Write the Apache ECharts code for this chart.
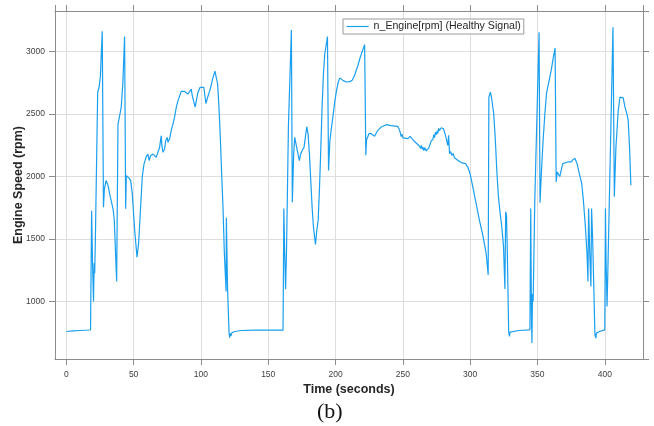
<!DOCTYPE html>
<html>
<head>
<meta charset="utf-8">
<script src="https://cdn.jsdelivr.net/npm/echarts@6/dist/echarts.min.js"></script>
<style>
  html, body { margin: 0; padding: 0; background: #fff; }
  #chart { width: 654px; height: 426px; }
</style>
</head>
<body>
<div id="chart"></div>
<script>
// Engine speed trace over one drive cycle (seconds, rpm)
const timeSec = [
  0, 5, 10, 18, 18.8, 19.5, 20.2, 20.7, 21.1, 21.6, 23.3, 24.3, 25.3, 26.7, 27.6, 28.3, 29.5, 30.2, 31, 32.2,
  33.5, 34.7, 35.6, 37.4, 38.4, 39.5, 40.8, 42, 43.3, 44.1, 44.6, 45.8, 46.8, 47.8, 49, 50.8, 52.5, 53.7, 55.2, 56.4,
  57.7, 59.4, 60.6, 61.6, 62.6, 64.4, 65.6, 66.8, 68, 69.3, 70.5, 71, 71.8, 73, 73.8, 75, 75.5, 76.7, 77.9, 79.2,
  80.4, 81.7, 82.9, 84.2, 85.4, 86.6, 87.9, 89, 90.3, 91.6, 92.8, 93.6, 94.8, 95.8, 96.8, 97.8, 99.3, 100.7, 102.2, 103.7,
  105, 107, 108.7, 110.4, 111.2, 112.4, 113.4, 114.4, 115.4, 116.4, 117.4, 118.7, 118.9, 119.8, 120.9, 121.4, 121.8, 122.3, 123, 125,
  130, 140, 161, 161.6, 162.2, 162.9, 163.6, 165, 167.2, 167.9, 168.9, 169.7, 170.6, 171.6, 173.1, 174.1, 175.1, 176.6, 177.6, 178.6,
  179.6, 180.6, 181.6, 182.6, 183.6, 185.1, 186.1, 187.1, 188.1, 189.1, 190, 191, 192, 194, 194.8, 195.8, 197, 198.3, 199.5, 200.7,
  202, 203.2, 204.5, 205.7, 208, 210.5, 212.4, 214.1, 215.4, 216.6, 218.4, 219.5, 221.6, 222.5, 223, 224.8, 226.5, 229, 231.4, 233.9,
  237.6, 241.3, 246.3, 247.6, 248.2, 248.8, 249.4, 250.1, 251.2, 253.7, 255.4, 257.4, 259.9, 262.4, 263.2, 263.8, 264.5, 264.9, 265.6, 266.3,
  267.3, 269.3, 271, 272.4, 273, 273.5, 274.3, 275, 275.5, 276, 276.6, 277.2, 278.5, 280.2, 281.7, 283.4, 284, 284.7, 285.4, 286.5,
  287.3, 288.4, 289.4, 290.8, 292, 293.3, 294.6, 296.5, 298.3, 300, 302, 304.5, 306.9, 309.4, 311.9, 313.4, 313.9, 315, 316, 317.5,
  318.6, 319.8, 321, 322.3, 323.5, 324.8, 325.8, 326.4, 327, 327.6, 328.6, 329.2, 329.6, 330.2, 331, 336, 344.4, 345, 345.5, 345.9,
  346.3, 346.8, 348, 351.2, 351.9, 353, 354.2, 355.5, 356.7, 357.9, 359.2, 360.4, 361.6, 363.1, 363.9, 364.7, 365.6, 366.6, 367.6, 368.8,
  370, 372.5, 375, 376.4, 377.9, 379.4, 381.1, 382.9, 384.1, 385.6, 386.8, 387.5, 388, 388.8, 389.7, 390.2, 391, 392.7, 393.4, 393.8,
  395, 396, 400, 400.5, 401, 401.7, 402.2, 406.1, 407.1, 408.3, 409.1, 410, 411.3, 412.5, 413.7, 415, 416.4, 417.4, 418.4, 419.4
];
const engineRpm = [
  760, 765, 768, 772, 1726, 1300, 1000, 1306, 1226, 1500, 2673, 2713, 2800, 3162, 1755, 1900, 1968, 1975, 1930, 1862,
  1800, 1742, 1660, 1160, 2420, 2480, 2553, 2750, 3120, 1742, 2008, 1995, 1985, 1968, 1862, 1570, 1354, 1465, 1755, 1995,
  2100, 2160, 2180, 2127, 2167, 2180, 2167, 2154, 2193, 2233, 2327, 2247, 2194, 2220, 2287, 2313, 2274, 2300, 2367, 2420,
  2473, 2553, 2606, 2646, 2681, 2692, 2681, 2665, 2660, 2673, 2700, 2646, 2593, 2557, 2620, 2673, 2713, 2726, 2713, 2585,
  2635, 2702, 2782, 2843, 2850, 2742, 2556, 2316, 2021, 1755, 1386, 1080, 1670, 1100, 747, 710, 745, 725, 750, 760,
  768, 771, 771, 1745, 1400, 1099, 1413, 2400, 3173, 1795, 2181, 2314, 2327, 2207, 2128, 2181, 2207, 2234, 2247, 2399,
  2340, 2181, 1968, 1755, 1595, 1457, 1572, 1650, 1915, 2234, 2556, 2822, 2981, 3120, 2048, 2287, 2394, 2500, 2606, 2686,
  2755, 2790, 2774, 2768, 2757, 2760, 2771, 2808, 2851, 2888, 2957, 2990, 3056, 2170, 2292, 2343, 2343, 2322, 2370, 2396,
  2415, 2407, 2401, 2371, 2345, 2320, 2340, 2310, 2322, 2303, 2322, 2296, 2269, 2243, 2225, 2250, 2218, 2235, 2208, 2232,
  2205, 2230, 2283, 2300, 2335, 2312, 2355, 2335, 2365, 2345, 2385, 2368, 2391, 2383, 2330, 2250, 2330, 2183, 2200, 2168,
  2185, 2150, 2160, 2130, 2138, 2112, 2122, 2104, 2075, 2021, 1915, 1782, 1650, 1532, 1386, 1213, 2636, 2676, 2623, 2503,
  2317, 2048, 1838, 1705, 1598, 1439, 1100, 1718, 1690, 1400, 760, 720, 755, 740, 760, 768, 773, 1745, 900, 668,
  1060, 1000, 1800, 3155, 1790, 2050, 2290, 2503, 2663, 2729, 2796, 2862, 2942, 3029, 1958, 2037, 2024, 2000, 2050, 2104,
  2117, 2117, 2117, 2136, 2144, 2104, 2024, 1944, 1811, 1598, 1386, 1160, 1745, 1400, 1120, 1745, 1500, 734, 707, 747,
  755, 760, 773, 1745, 1300, 960, 1200, 3195, 1838, 2237, 2370, 2530, 2636, 2650, 2630, 2556, 2503, 2450, 2237, 1931
];
const seriesName = 'n_Engine[rpm] (Healthy Signal)';

const points = timeSec.map((t, i) => [t, engineRpm[i]]);

const frameColor = '#8c8c8c';
const labelColor = '#404040';
const gridColor = '#dedede';
const lineColor = '#1a9ff0';
const sans = '"Liberation Sans", Arial, Helvetica, sans-serif';

const xRange = { min: -8.4, max: 428.4, minInterval: 50, maxInterval: 50 };
const yRange = { min: 540, max: 3325, minInterval: 500, maxInterval: 500 };
const plainNumber = v => String(Math.round(v));

const tickLabelBase = { fontFamily: sans, fontSize: 8.5, color: labelColor, showMinLabel: false, showMaxLabel: false, formatter: plainNumber };
const nameText = { fontFamily: sans, fontSize: 12.5, fontWeight: 'bold', color: '#262626' };

const chart = echarts.init(document.getElementById('chart'), null, { renderer: 'canvas' });

chart.setOption({
  animation: false,
  backgroundColor: '#ffffff',
  grid: { left: 55, right: 11, top: 11, bottom: 67, containLabel: false, outerBoundsMode: 'none' },
  legend: {
    show: true,
    left: 343,
    top: 19,
    orient: 'horizontal',
    padding: [1, 3, 1, 3],
    itemWidth: 22,
    itemHeight: 10,
    itemGap: 4,
    backgroundColor: '#ffffff',
    borderColor: '#9a9a9a',
    borderWidth: 1,
    borderRadius: 0,
    itemStyle: { opacity: 0 },
    lineStyle: { color: lineColor, width: 1.2 },
    textStyle: { fontFamily: sans, fontSize: 10.6, color: '#262626', lineHeight: 13 },
    data: [seriesName]
  },
  xAxis: [
    {
      type: 'value', position: 'bottom', ...xRange,
      name: 'Time (seconds)', nameLocation: 'middle', nameGap: 24, nameMoveOverlap: false,
      nameTextStyle: nameText,
      axisLine: { show: true, onZero: false, lineStyle: { color: frameColor, width: 1 } },
      axisTick: { show: true, inside: false, length: 6, lineStyle: { color: frameColor } },
      axisLabel: { ...tickLabelBase, margin: 11 },
      splitLine: { show: true, lineStyle: { color: gridColor, width: 1 } }
    },
    {
      type: 'value', position: 'top', ...xRange,
      axisLine: { show: true, onZero: false, lineStyle: { color: frameColor, width: 1 } },
      axisTick: { show: true, inside: false, length: 6, lineStyle: { color: frameColor } },
      axisLabel: { show: false },
      splitLine: { show: false }
    }
  ],
  yAxis: [
    {
      type: 'value', position: 'left', ...yRange,
      name: 'Engine Speed (rpm)', nameLocation: 'middle', nameGap: 30, nameMoveOverlap: false,
      nameTextStyle: nameText,
      axisLine: { show: true, onZero: false, lineStyle: { color: frameColor, width: 1 } },
      axisTick: { show: true, inside: false, length: 6, lineStyle: { color: frameColor } },
      axisLabel: { ...tickLabelBase, margin: 10 },
      splitLine: { show: true, lineStyle: { color: gridColor, width: 1 } }
    },
    {
      type: 'value', position: 'right', ...yRange,
      axisLine: { show: true, onZero: false, lineStyle: { color: frameColor, width: 1 } },
      axisTick: { show: true, inside: false, length: 6, lineStyle: { color: frameColor } },
      axisLabel: { show: false },
      splitLine: { show: false }
    }
  ],
  series: [
    {
      name: seriesName,
      type: 'line',
      xAxisIndex: 0,
      yAxisIndex: 0,
      data: points,
      symbol: 'none',
      showSymbol: false,
      smooth: false,
      sampling: null,
      color: lineColor,
      lineStyle: { color: lineColor, width: 1.2 }
    }
  ],
  graphic: [
    {
      type: 'text',
      left: 317,
      top: 401,
      style: { text: '(b)', font: '22px "Liberation Serif", "Times New Roman", serif', fill: '#111111' }
    }
  ]
});
</script>
</body>
</html>
